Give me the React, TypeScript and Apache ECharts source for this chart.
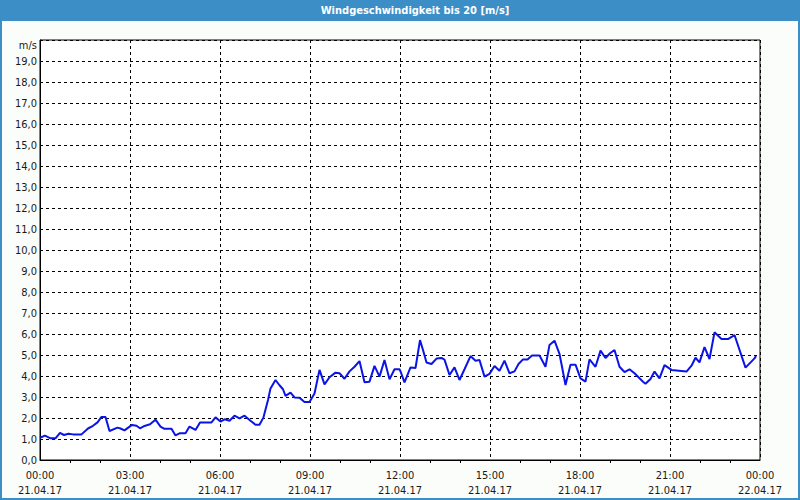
import React, { useEffect, useRef } from "react";
import * as echarts from "echarts";

// minutes since 21.04.17 00:00
const minutes = [
  0, 10, 21, 31, 40, 48, 57, 66, 83, 96, 106, 115, 123, 131, 139, 155, 161, 169, 184, 193,
  200, 209, 220, 231, 241, 248, 263, 271, 279, 291, 299, 311, 320, 343, 351, 361, 369, 379, 389, 399,
  409, 421, 431, 439, 447, 456, 461, 471, 479, 486, 491, 501, 509, 519, 529, 539, 549, 559, 569, 579,
  591, 599, 609, 619, 629, 639, 649, 659, 669, 679, 689, 699, 709, 719, 721, 729, 741, 751, 760, 766,
  773, 783, 793, 803, 809, 819, 829, 839, 849, 861, 871, 879, 889, 899, 909, 919, 929, 939, 949, 957,
  966, 975, 984, 999, 1011, 1019, 1029, 1039, 1044, 1051, 1061, 1071, 1081, 1091, 1099, 1111, 1121, 1131, 1140, 1149,
  1159, 1169, 1179, 1189, 1206, 1211, 1221, 1229, 1239, 1249, 1263, 1293, 1303, 1311, 1319, 1329, 1339, 1349, 1363, 1376,
  1389, 1411, 1429, 1432,
];
const speeds = [
  1.06, 1.16, 1.03, 1.03, 1.29, 1.19, 1.25, 1.22, 1.22, 1.5, 1.63, 1.79, 2.05, 2.05, 1.38, 1.54, 1.5, 1.41, 1.67, 1.63,
  1.51, 1.62, 1.7, 1.92, 1.59, 1.49, 1.49, 1.17, 1.27, 1.27, 1.59, 1.43, 1.79, 1.79, 2.03, 1.83, 1.94, 1.87, 2.11, 1.98,
  2.11, 1.87, 1.68, 1.68, 2.03, 2.86, 3.41, 3.81, 3.56, 3.37, 3.05, 3.21, 2.98, 2.97, 2.76, 2.76, 3.17, 4.29, 3.6, 3.94,
  4.16, 4.13, 3.87, 4.22, 4.44, 4.71, 3.7, 3.73, 4.48, 3.97, 4.76, 3.84, 4.32, 4.32, 4.22, 3.7, 4.41, 4.38, 5.71, 5.24,
  4.64, 4.57, 4.83, 4.86, 4.78, 4.05, 4.41, 3.81, 4.32, 4.95, 4.73, 4.76, 3.97, 4.1, 4.48, 4.25, 4.73, 4.13, 4.22, 4.57,
  4.79, 4.79, 4.98, 4.98, 4.44, 5.48, 5.68, 5.05, 4.44, 3.57, 4.54, 4.54, 3.89, 3.73, 4.79, 4.44, 5.21, 4.86, 5.08, 5.24,
  4.44, 4.19, 4.32, 4.13, 3.73, 3.63, 3.86, 4.21, 3.89, 4.52, 4.29, 4.21, 4.49, 4.87, 4.65, 5.38, 4.81, 6.08, 5.76, 5.76,
  5.95, 4.4, 4.84, 4.95,
];
const timeLabels = ["00:00", "03:00", "06:00", "09:00", "12:00", "15:00", "18:00", "21:00", "00:00"];
const dateLabels = ["21.04.17", "21.04.17", "21.04.17", "21.04.17", "21.04.17", "21.04.17", "21.04.17", "21.04.17", "22.04.17"];
const titleText = "Windgeschwindigkeit bis 20 [m/s]";
const unitText = "m/s";

const FONT = "'DejaVu Sans Condensed', 'DejaVu Sans', sans-serif";
const BLUE = "#3c8ec7";

export default function App() {
  const ref = useRef<HTMLDivElement>(null);
  useEffect(() => {
    const chart = echarts.init(ref.current!, null, { renderer: "svg" });
    const data = minutes.map((m, i) => [m, speeds[i]]);
    chart.setOption({
      animation: false,
      backgroundColor: "#fbfdfb",
      textStyle: { fontFamily: FONT },
      grid: { left: 40, right: 40, top: 40, bottom: 40, show: true, borderColor: "#000", borderWidth: 1, backgroundColor: "#ffffff" },
      xAxis: {
        type: "value",
        min: 0,
        max: 1440,
        interval: 180,
        axisLine: { show: true, lineStyle: { color: "#000", width: 1 } },
        axisTick: { show: false },
        minorTick: { show: true, splitNumber: 3, length: 3, lineStyle: { color: "#000" } },
        splitLine: { show: true, lineStyle: { color: "#000", type: [3, 3], width: 1 } },
        axisLabel: {
          margin: 8,
          color: "#1a1a1a",
          fontSize: 11,
          fontFamily: FONT,
          lineHeight: 15,
          showMinLabel: true,
          showMaxLabel: true,
          formatter: (v: number) => {
            const i = Math.round(v / 180);
            return timeLabels[i] + "\n" + dateLabels[i];
          },
        },
      },
      yAxis: {
        type: "value",
        min: 0,
        max: 20,
        interval: 1,
        axisLine: { show: true, lineStyle: { color: "#000", width: 1 } },
        axisTick: { show: false },
        splitLine: { show: true, lineStyle: { color: "#000", type: [3, 3], width: 1 } },
        axisLabel: {
          margin: 3,
          color: "#1a1a1a",
          fontSize: 11,
          fontFamily: FONT,
          formatter: (v: number) => (v >= 20 ? "" : v.toFixed(1).replace(".", ",")),
        },
      },
      series: [
        {
          type: "line",
          data,
          showSymbol: false,
          symbol: "none",
          lineStyle: { color: "#0a14e6", width: 2 },
          itemStyle: { color: "#0a14e6" },
        },
      ],
      graphic: [
        { type: "rect", shape: { x: 0, y: 0, width: 800, height: 21 }, style: { fill: BLUE } },
        { type: "rect", shape: { x: 0, y: 0, width: 2, height: 500 }, style: { fill: BLUE } },
        { type: "rect", shape: { x: 798, y: 0, width: 2, height: 500 }, style: { fill: BLUE } },
        { type: "rect", shape: { x: 0, y: 498, width: 800, height: 2 }, style: { fill: BLUE } },
        {
          type: "text",
          x: 415,
          y: 10,
          style: { text: titleText, fill: "#ffffff", font: "bold 11px " + FONT, textAlign: "center", textVerticalAlign: "middle" },
        },
        {
          type: "text",
          x: 37,
          y: 45,
          style: { text: unitText, fill: "#1a1a1a", font: "11px " + FONT, textAlign: "right", textVerticalAlign: "middle" },
        },
      ],
    });
    return () => chart.dispose();
  }, []);
  return <div ref={ref} style={{ position: "fixed", left: 0, top: 0, width: 800, height: 500 }} />;
}
